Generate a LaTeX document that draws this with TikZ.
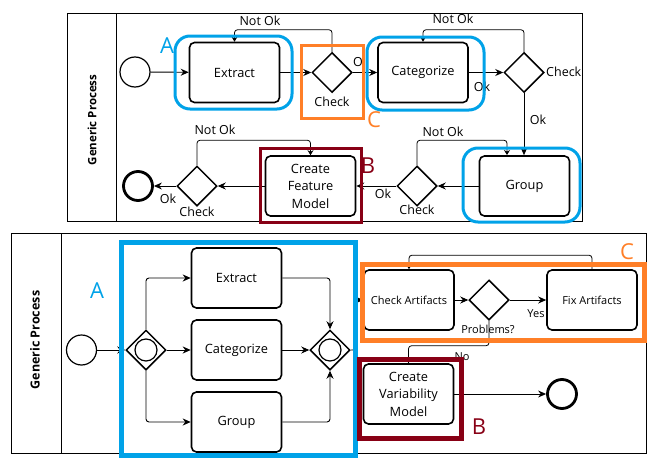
\documentclass[tikz,border=0pt]{standalone}
\usepackage{fontspec}
\setmainfont{Open Sans}
\usetikzlibrary{shapes.geometric,arrows.meta}
\definecolor{hlblue}{RGB}{0,162,232}
\definecolor{hlorange}{RGB}{255,127,39}
\definecolor{hlred}{RGB}{136,0,21}
\tikzset{
  task/.style={draw,rectangle,rounded corners=5pt,line width=1.6pt,minimum width=90pt,minimum height=60pt,
    align=center,inner sep=2pt,font={\fontsize{12.8}{17.5}\selectfont}},
  smalltask/.style={task,font={\fontsize{11}{14}\selectfont}},
  gate/.style={draw,diamond,line width=1.5pt,minimum width=40pt,minimum height=40pt,inner sep=0pt},
  startev/.style={draw,circle,line width=1.2pt,minimum size=30pt,inner sep=0pt},
  endev/.style={draw,circle,line width=2.8pt,minimum size=29pt,inner sep=0pt},
  flow/.style={draw,line width=0.9pt,rounded corners=3pt,-{Stealth[length=8pt,width=7pt]}},
  loopflow/.style={draw,line width=0.8pt,rounded corners=3pt,-{Stealth[length=5pt,width=6pt]}},
  lbl/.style={font={\fontsize{12.5}{14}\selectfont},inner sep=0pt},
  slbl/.style={font={\fontsize{11}{12}\selectfont},inner sep=0pt},
  letter/.style={font={\fontsize{22}{24}\selectfont},inner sep=0pt},
  pool/.style={draw,line width=1pt},
  lanelbl/.style={font={\bfseries\fontsize{11.5}{13}\selectfont},rotate=90,inner sep=0pt},
  hlthin/.style={line width=3pt},
  hlthick/.style={line width=5pt}
}
\begin{document}
\begin{tikzpicture}[x=1pt,y=-1pt]
\useasboundingbox (0,0) rectangle (649,458);
% ---------------- top pool ----------------
\draw[pool] (67,13) rectangle (582,221);
\draw[pool] (116,13) -- (116,221);
\node[lanelbl] (lane1) at (92,120) {Generic Process};

\node[startev] (s1) at (135,72) {};
\node[task] (ex1) at (234.5,72.5) {Extract};
\node[gate] (g1) at (332,72.5) {};
\node[task] (cat1) at (423,72.5) {Categorize};
\node[gate] (g2) at (524,72.5) {};
\node[task] (grp1) at (524.5,186) {Group};
\node[gate] (g3) at (417,186) {};
\node[task] (cfm) at (310.5,186) {Create\\Feature\\Model};
\node[gate] (g4) at (197,186) {};
\node[endev] (e1) at (138,186) {};

\path[flow] (s1) -- (ex1);
\path[flow] (ex1) -- (g1);
\path[flow] (g1) -- (cat1);
\path[flow] (cat1) -- (g2);
\path[flow] (g2.south) -- (g2.south |- grp1.north);
\path[loopflow] (g2.north) -- ++(0,-22) -| (cat1.north);
\path[loopflow] (g1.north) -- ++(0,-22) -| (ex1.north);
\path[flow] (grp1) -- (g3);
\path[loopflow] (g3.north) -- ++(0,-25) -| (507,155);
\path[flow] (g3) -- (cfm);
\path[flow] (cfm) -- (g4);
\path[loopflow] (g4.north) -- ++(0,-25) -| (cfm.north);
\path[flow] (g4) -- (e1);

\node[lbl] (t1) at (260,21) {Not Ok};
\node[lbl] (t2) at (453,19) {Not Ok};
\node[lbl] (t3) at (332,102) {Check};
\begin{scope}
\clip (345,50) rectangle (361.5,75);
\node[lbl,anchor=west] (t4) at (353,62) {Ok};
\end{scope}
\node[lbl,anchor=west] (t5) at (546,72) {Check};
\node[lbl] (t6) at (482,87) {Ok};
\node[lbl] (t7) at (538,120) {Ok};
\node[lbl] (t8) at (443,132) {Not Ok};
\node[lbl] (t9) at (383,194) {Ok};
\node[lbl] (t10) at (417,210) {Check};
\node[lbl] (t11) at (215,130) {Not Ok};
\node[lbl] (t12) at (197,212) {Check};
\node[lbl] (t13) at (168,199) {Ok};

% highlights top
\draw[hlblue,hlthin,rounded corners=15pt] (175,36) rectangle (292,109);
\draw[hlblue,hlthin,rounded corners=15pt] (367,37) rectangle (484,110);
\draw[hlblue,hlthin,rounded corners=15pt] (463,148) rectangle (580,222);
\draw[hlorange,hlthin] (301,45) rectangle (363,118);
\draw[hlred,hlthin] (260,148) rectangle (361,222);
\node[letter,text=hlblue] (la1) at (167,46) {A};
\node[letter,text=hlorange] (lc1) at (374,120) {C};
\node[letter,text=hlred] (lb1) at (368,166) {B};

% ---------------- bottom pool ----------------
\draw[pool] (11,233) rectangle (646,453);
\draw[pool] (61,233) -- (61,453);
\node[lanelbl,font={\bfseries\fontsize{12.5}{14}\selectfont}] (lane2) at (35,340) {Generic Process};

\node[startev] (s2) at (81.5,350) {};
\node[gate] (g5) at (146,350) {};
\draw[line width=1.2pt] (g5.center) circle[radius=11pt];
\node[task] (ex2) at (236.5,278) {Extract};
\node[task] (cat2) at (236.5,350) {Categorize};
\node[task] (grp2) at (236.5,422) {Group};
\node[gate] (g6) at (330,350) {};
\draw[line width=1.2pt] (g6.center) circle[radius=11pt];
\node[smalltask] (ca) at (409,300) {Check Artifacts};
\node[gate] (g7) at (489,300) {};
\node[smalltask] (fa) at (592,300) {Fix Artifacts};
\node[task] (cvm) at (408.5,394) {Create\\Variability\\Model};
\node[endev] (e2) at (562,394) {};

\path[flow] (s2) -- (g5);
\path[flow] (g5.north) |- (ex2.west);
\path[flow] (g5) -- (cat2);
\path[flow] (g5.south) |- (grp2.west);
\path[flow] (ex2.east) -| (g6.north);
\path[flow] (cat2) -- (g6);
\path[flow] (grp2.east) -| (g6.south);
\path[flow] (g6.east) -- ++(5,0) |- (ca.west);
\path[flow] (ca) -- (g7);
\path[flow] (g7) -- (fa);
\path[loopflow] (fa.north) -- ++(0,-14) -| (ca.north);
\path[loopflow] (g7.south) -- ++(0,25) -| (cvm.north);
\path[flow] (cvm) -- (e2);

\node[slbl] (u1) at (536,314) {Yes};
\node[slbl] (u2) at (488,329) {Problems?};
\node[slbl] (u3) at (462,357) {No};

% highlights bottom
\draw[hlblue,hlthick] (121,242) rectangle (355,455);
\draw[hlorange,hlthick] (362,264) rectangle (644,340);
\draw[hlred,hlthick] (359,359) rectangle (461,438);
\node[letter,text=hlblue] (la2) at (97,291) {A};
\node[letter,text=hlorange] (lc2) at (627,252) {C};
\node[letter,text=hlred] (lb2) at (479,427) {B};
\end{tikzpicture}
\end{document}
